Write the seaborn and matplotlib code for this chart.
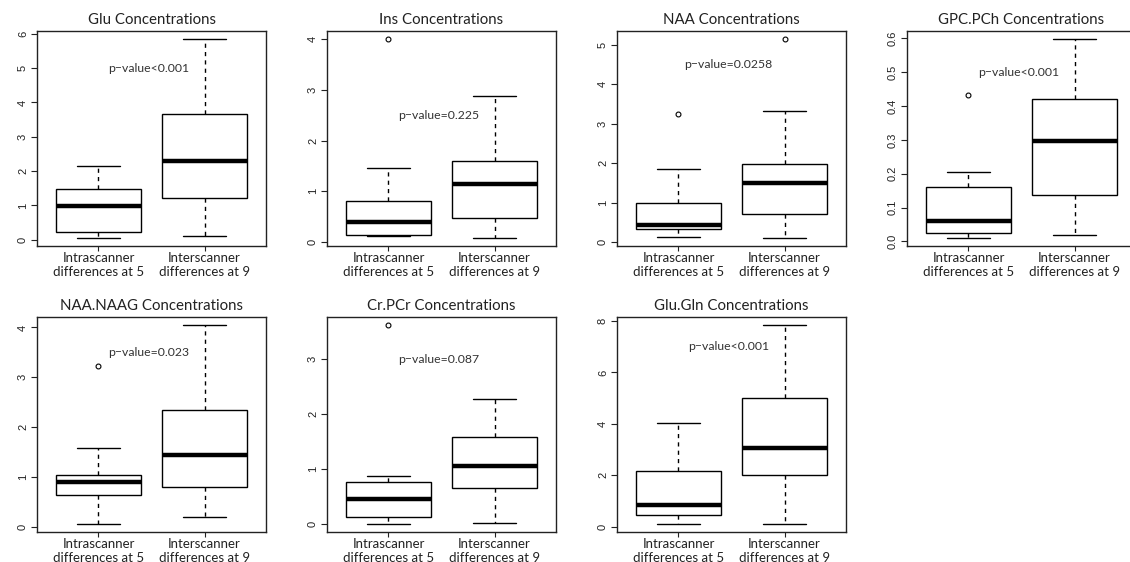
import numpy as np
import pandas as pd
import matplotlib
matplotlib.use("Agg")
import matplotlib.pyplot as plt
import seaborn as sns

sns.set_theme(style="white")
plt.rcParams["font.family"] = ["Lato", "DejaVu Sans"]

# Group labels shown under each box
groups = ["Intrascanner\ndifferences at 5", "Interscanner\ndifferences at 9"]

# Metabolites, in panel order
metabolites = ["Glu", "Ins", "NAA", "GPC.PCh", "NAA.NAAG", "Cr.PCr", "Glu.Gln"]

# Box summaries per metabolite: [intrascanner, interscanner]
whisker_low = [[0.05, 0.10], [0.12, 0.08], [0.12, 0.10], [0.010, 0.018],
               [0.05, 0.20], [0.00, 0.02], [0.10, 0.10]]
quartile_1 = [[0.22, 1.23], [0.14, 0.48], [0.32, 0.72], [0.025, 0.137],
              [0.64, 0.80], [0.12, 0.65], [0.45, 2.00]]
medians = [[0.97, 2.28], [0.40, 1.15], [0.42, 1.50], [0.060, 0.298],
           [0.90, 1.44], [0.45, 1.05], [0.85, 3.05]]
quartile_3 = [[1.48, 3.65], [0.80, 1.60], [1.00, 1.97], [0.160, 0.422],
              [1.04, 2.35], [0.77, 1.58], [2.15, 5.00]]
whisker_high = [[2.15, 5.85], [1.45, 2.88], [1.86, 3.33], [0.205, 0.598],
                [1.57, 4.05], [0.88, 2.28], [4.02, 7.85]]
outliers = [[[], []], [[4.0], []], [[3.25], [5.15]], [[0.433], []],
            [[3.22], []], [[3.62], []], [[], []]]

# p-value annotations and their y positions
p_labels = ["p\u2212value<0.001", "p\u2212value=0.225", "p\u2212value=0.0258",
            "p\u2212value<0.001", "p\u2212value=0.023", "p\u2212value=0.087",
            "p\u2212value<0.001"]
p_label_y = [5.0, 2.5, 4.5, 0.50, 3.5, 3.0, 7.0]

# Y tick positions per panel
y_ticks = [np.arange(0, 7, 1), np.arange(0, 5, 1), np.arange(0, 6, 1),
           np.round(np.arange(0, 0.61, 0.1), 1), np.arange(0, 5, 1),
           np.arange(0, 4, 1), np.arange(0, 9, 2)]


def observations(lo, q1, med, q3, hi, out):
    # Nine sorted observations whose quartiles fall on q1, med and q3
    vals = [lo, q1, q1, med, med, med, q3, hi]
    vals += out if out else [hi]
    return vals


W, H = 1130, 562
fig = plt.figure(figsize=(W / 100, H / 100), dpi=100)

col_left = [37, 327, 617, 907]
row_top = [31, 317]
ax_w, ax_h = 229, 215

for i, name in enumerate(metabolites):
    r, c = divmod(i, 4)
    left = col_left[c]
    bottom = row_top[r] + ax_h
    ax = fig.add_axes([left / W, (H - bottom) / H, ax_w / W, ax_h / H])

    rows = []
    for g in range(2):
        for v in observations(whisker_low[i][g], quartile_1[i][g], medians[i][g],
                              quartile_3[i][g], whisker_high[i][g], outliers[i][g]):
            rows.append({"group": groups[g], "value": v})
    df = pd.DataFrame(rows)

    sns.boxplot(data=df, x="group", y="value", order=groups, ax=ax,
                color="white", linecolor="black", linewidth=1.0, width=0.8,
                whis=1.5, saturation=1,
                medianprops=dict(linewidth=3.2, color="black", solid_capstyle="butt"),
                whiskerprops=dict(linestyle=(0, (3, 3)), linewidth=1.0),
                capprops=dict(linewidth=1.0),
                flierprops=dict(marker="o", markersize=3.5, markerfacecolor="none",
                                markeredgecolor="black", markeredgewidth=0.8))

    all_vals = df["value"].to_numpy()
    lo, hi = all_vals.min(), all_vals.max()
    pad = 0.04 * (hi - lo)
    ax.set_ylim(lo - pad, hi + pad)
    ax.set_xlim(-0.58, 1.58)

    ax.text(0.47, p_label_y[i], p_labels[i], ha="center", va="center",
            fontsize=8.8, color="#333333")

    ax.set_title(f"{name} Concentrations", fontsize=10.8, pad=5, color="#222222")
    ax.set_xlabel("")
    ax.set_ylabel("")

    ax.set_yticks(y_ticks[i])
    if name == "GPC.PCh":
        ax.set_yticklabels([f"{t:.1f}" for t in y_ticks[i]])
    else:
        ax.set_yticklabels([f"{t:g}" for t in y_ticks[i]])
    for lab in ax.get_yticklabels():
        lab.set_rotation(90)
        lab.set_va("center")
        lab.set_fontfamily(["Liberation Sans", "DejaVu Sans"])
    ax.tick_params(axis="y", direction="out", length=4.5, width=0.8,
                   labelsize=8, pad=2, left=True, colors="#222222")
    ax.tick_params(axis="x", direction="out", length=3.5, width=0.8,
                   labelsize=9.5, pad=1.0, bottom=True, colors="#222222")
    for lab in ax.get_xticklabels():
        lab.set_linespacing(1.2)

    for s in ax.spines.values():
        s.set_visible(True)
        s.set_color("#222222")
        s.set_linewidth(1.0)

fig.savefig("out.png", dpi=100, facecolor="white")
